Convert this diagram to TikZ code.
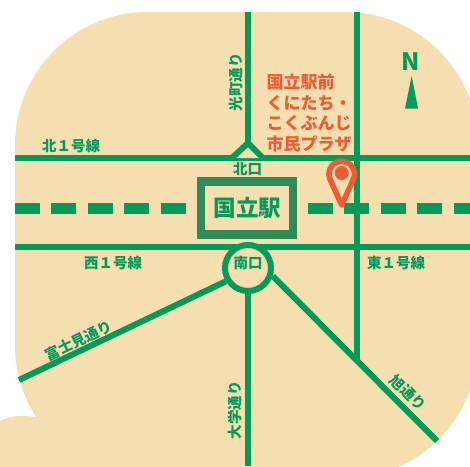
\documentclass[tikz,border=0pt]{standalone}
\usepackage{fontspec}
\setmainfont{Noto Sans CJK JP}
\definecolor{sand}{HTML}{F5DEB0}
\definecolor{road}{HTML}{069A59}
\definecolor{boxgreen}{HTML}{2F8B57}
\definecolor{pinred}{HTML}{F15A33}
\tikzset{
  roadline/.style={draw=road,line width=6pt},
  raildash/.style={draw=road,line width=11pt,dash pattern=on 25pt off 11.4pt},
  lbl/.style={text=road,font=\bfseries\fontsize{14.5}{14.5}\selectfont,inner sep=0pt},
  stationbox/.style={draw=boxgreen,line width=8.5pt,fill=sand,minimum width=92pt,minimum height=53pt,inner sep=0pt,
    text=road,font=\bfseries\fontsize{22.5}{22.5}\selectfont},
  plazatext/.style={text=pinred,font=\bfseries\fontsize{17}{20.6}\selectfont,align=left,inner sep=0pt},
  southring/.style={circle,draw=road,line width=6pt,minimum size=46pt,inner sep=0pt,fill=sand}
}
\begin{document}
\begin{tikzpicture}[x=1pt,y=-1pt]
\useasboundingbox (0,0) rectangle (470,466);
\fill[white] (0,0) rectangle (470,466);
\clip (0,0) rectangle (470,466);
% ground
\fill[sand,rounded corners=133pt] (15,12) rectangle (478,478);
\fill[sand] (0,421) .. controls (7,417.5) and (14,416) .. (22,416) .. controls (26,416) and (30,416.3) .. (36,417) -- (140,440) -- (140,470) -- (0,470) -- cycle;
% end points
\coordinate (nw) at (15,158); \coordinate (ne) at (470,158);
\coordinate (tl) at (232,158); \coordinate (tr) at (263,158);
\coordinate (apex) at (248,143); \coordinate (ntop) at (248,12);
\coordinate (etop) at (357,12); \coordinate (ebot) at (357,360);
\coordinate (sw) at (15,247); \coordinate (se) at (470,247);
\coordinate (sbot) at (248,466);
\coordinate (fuji) at (19,380); \coordinate (asahi) at (437,441);
\coordinate (railwa) at (15,208); \coordinate (railwb) at (187,208);
\coordinate (railea) at (308,208); \coordinate (raileb) at (470,208);
% rail
\draw[raildash] (railwa) -- (railwb);
\draw[raildash] (railea) -- (raileb);
% roads
\draw[roadline] (nw) -- (ne);
\draw[roadline] (sw) -- (se);
\draw[roadline] (etop) -- (ebot);
\draw[roadline,fill=sand] (tl) -- (apex) -- (tr);
\draw[roadline] (apex) -- (ntop);
% ring and roads from it
\node[southring] (south) at (248,268) {};
\draw[roadline] (south.south) -- (sbot);
\draw[roadline] (south.211) -- (fuji);
\draw[roadline] (south.-18) -- (asahi);
% station
\node[stationbox] (station) at (247,208) {\kern1pt 国立駅};
% labels
\node[lbl] (northgate) at (247.5,169) {北口};
\node[lbl] (southgate) at (248,263) {南口};
\node[lbl] (n1) at (71,146) {北１号線};
\node[lbl] (w1) at (113,263) {西１号線};
\node[lbl] (e1) at (396,263) {東１号線};
\node[lbl,rotate=90] (komachi) at (236,82) {光町通り};
\node[lbl,rotate=90] (daigaku) at (235,410) {大学通り};
\node[lbl,rotate=25.6] (fujimi) at (78.5,340.5) {富士見通り};
\node[lbl,rotate=-45] (asahil) at (408,393) {旭通り};
\node[plazatext,anchor=north west] (plaza) at (266.5,74) {国立駅前\\くにたち・\\こくぶんじ\\市民プラザ};
% pin
\draw[pinred,line width=5.5pt,fill=sand,line join=round] (341.7,205)
  -- (330,179.3) arc[start angle=155.6,end angle=384.4,radius=12.8] -- cycle;
\fill[pinred] (341.7,173) circle[radius=7pt];
% compass
\node[text=road,font=\bfseries\fontsize{24}{24}\selectfont,inner sep=0pt] (north) at (411,61.5) {N};
\fill[road] (411.7,76) -- (418,108.5) -- (405,108.5) -- cycle;
\end{tikzpicture}
\end{document}
